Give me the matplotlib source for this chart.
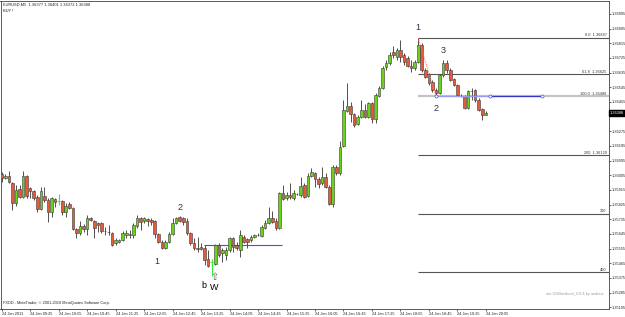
import matplotlib
matplotlib.use("Agg")
import matplotlib.pyplot as plt

plt.rcParams['font.family'] = ['Liberation Sans', 'DejaVu Sans']

# ---- data (EURUSD M5, 24 Jan 2011, 08:45 .. 20:05) ----
opens = [1.36013, 1.35988, 1.36000, 1.35957, 1.35835, 1.35920, 1.35871, 1.36000, 1.35927, 1.35908,
         1.35871, 1.35798, 1.35878, 1.35853, 1.35779, 1.35859, 1.35847, 1.35847, 1.35779, 1.35828,
         1.35804, 1.35675, 1.35651, 1.35693, 1.35675, 1.35743, 1.35724, 1.35712, 1.35712, 1.35663,
         1.35657, 1.35651, 1.35589, 1.35595, 1.35608, 1.35638, 1.35644, 1.35638, 1.35693, 1.35743,
         1.35724, 1.35736, 1.35730, 1.35724, 1.35644, 1.35595, 1.35559, 1.35595, 1.35644, 1.35712,
         1.35749, 1.35743, 1.35724, 1.35651, 1.35589, 1.35559, 1.35565, 1.35559, 1.35491, 1.35473,
         1.35460, 1.35577, 1.35528, 1.35516, 1.35546, 1.35620, 1.35577, 1.35546, 1.35626, 1.35614,
         1.35608, 1.35626, 1.35638, 1.35632, 1.35681, 1.35712, 1.35743, 1.35724, 1.35681, 1.35896,
         1.35865, 1.35884, 1.35865, 1.35890, 1.35884, 1.35945, 1.35878, 1.36000, 1.36019, 1.35982,
         1.35957, 1.35994, 1.35933, 1.35828, 1.36055, 1.36019, 1.36184, 1.36399, 1.36430, 1.36381,
         1.36319, 1.36362, 1.36405, 1.36362, 1.36448, 1.36350, 1.36491, 1.36540, 1.36669, 1.36693,
         1.36761, 1.36730, 1.36773, 1.36743, 1.36724, 1.36675, 1.36663, 1.36700, 1.36804, 1.36651,
         1.36620, 1.36577, 1.36528, 1.36509, 1.36620, 1.36693, 1.36651, 1.36595, 1.36559, 1.36491,
         1.36491, 1.36417, 1.36522, 1.36528, 1.36466, 1.36411, 1.36377]
highs = [1.36025, 1.36013, 1.36031, 1.35963, 1.35945, 1.35945, 1.36031, 1.36006, 1.35933, 1.35914,
         1.35884, 1.35933, 1.35933, 1.35865, 1.35871, 1.35865, 1.35890, 1.35853, 1.35835, 1.35841,
         1.35810, 1.35681, 1.35724, 1.35706, 1.35761, 1.35749, 1.35730, 1.35718, 1.35718, 1.35687,
         1.35700, 1.35657, 1.35620, 1.35614, 1.35663, 1.35669, 1.35669, 1.35712, 1.35761, 1.35749,
         1.35749, 1.35743, 1.35743, 1.35730, 1.35651, 1.35608, 1.35608, 1.35657, 1.35743, 1.35749,
         1.35755, 1.35749, 1.35743, 1.35657, 1.35620, 1.35626, 1.35589, 1.35577, 1.35546, 1.35491,
         1.35583, 1.35589, 1.35559, 1.35565, 1.35626, 1.35626, 1.35595, 1.35669, 1.35638, 1.35620,
         1.35638, 1.35644, 1.35651, 1.35700, 1.35730, 1.35810, 1.35786, 1.35743, 1.35902, 1.35945,
         1.35902, 1.35957, 1.35914, 1.35896, 1.35994, 1.35957, 1.36019, 1.36049, 1.36025, 1.35994,
         1.36055, 1.36019, 1.35945, 1.36068, 1.36068, 1.36215, 1.36466, 1.36571, 1.36454, 1.36387,
         1.36374, 1.36466, 1.36442, 1.36454, 1.36454, 1.36509, 1.36552, 1.36675, 1.36712, 1.36761,
         1.36798, 1.36786, 1.36835, 1.36755, 1.36736, 1.36712, 1.36712, 1.36847, 1.36816, 1.36663,
         1.36632, 1.36589, 1.36540, 1.36626, 1.36712, 1.36712, 1.36663, 1.36602, 1.36565, 1.36503,
         1.36497, 1.36528, 1.36540, 1.36534, 1.36479, 1.36417, 1.36401]
lows = [1.35963, 1.35982, 1.35957, 1.35792, 1.35816, 1.35865, 1.35865, 1.35865, 1.35865, 1.35853,
        1.35779, 1.35792, 1.35841, 1.35718, 1.35749, 1.35810, 1.35822, 1.35761, 1.35749, 1.35798,
        1.35669, 1.35620, 1.35638, 1.35657, 1.35638, 1.35724, 1.35620, 1.35657, 1.35651, 1.35638,
        1.35638, 1.35571, 1.35577, 1.35589, 1.35601, 1.35620, 1.35620, 1.35620, 1.35681, 1.35669,
        1.35712, 1.35693, 1.35700, 1.35620, 1.35589, 1.35555, 1.35552, 1.35589, 1.35638, 1.35706,
        1.35718, 1.35700, 1.35638, 1.35577, 1.35546, 1.35534, 1.35546, 1.35454, 1.35442, 1.35387,
        1.35454, 1.35503, 1.35473, 1.35485, 1.35534, 1.35534, 1.35546, 1.35503, 1.35589, 1.35559,
        1.35595, 1.35620, 1.35632, 1.35626, 1.35678, 1.35706, 1.35712, 1.35669, 1.35675, 1.35853,
        1.35853, 1.35859, 1.35853, 1.35884, 1.35871, 1.35865, 1.35871, 1.35994, 1.35933, 1.35927,
        1.35945, 1.35927, 1.35822, 1.35810, 1.36006, 1.36006, 1.36178, 1.36393, 1.36331, 1.36301,
        1.36313, 1.36356, 1.36356, 1.36356, 1.36325, 1.36325, 1.36485, 1.36534, 1.36651, 1.36681,
        1.36724, 1.36712, 1.36700, 1.36681, 1.36669, 1.36638, 1.36651, 1.36693, 1.36638, 1.36602,
        1.36559, 1.36516, 1.36488, 1.36503, 1.36608, 1.36632, 1.36583, 1.36552, 1.36491, 1.36485,
        1.36411, 1.36411, 1.36466, 1.36454, 1.36399, 1.36344, 1.36372]
closes = [1.35988, 1.36000, 1.35963, 1.35835, 1.35914, 1.35871, 1.36000, 1.35878, 1.35908, 1.35865,
          1.35798, 1.35908, 1.35853, 1.35779, 1.35865, 1.35841, 1.35847, 1.35779, 1.35816, 1.35804,
          1.35675, 1.35651, 1.35693, 1.35675, 1.35743, 1.35730, 1.35681, 1.35700, 1.35663, 1.35660,
          1.35654, 1.35577, 1.35608, 1.35608, 1.35651, 1.35651, 1.35641, 1.35700, 1.35743, 1.35718,
          1.35743, 1.35724, 1.35718, 1.35644, 1.35595, 1.35559, 1.35595, 1.35644, 1.35712, 1.35743,
          1.35724, 1.35718, 1.35651, 1.35589, 1.35559, 1.35555, 1.35555, 1.35485, 1.35448, 1.35473,
          1.35577, 1.35516, 1.35546, 1.35546, 1.35620, 1.35565, 1.35559, 1.35638, 1.35595, 1.35595,
          1.35626, 1.35638, 1.35641, 1.35687, 1.35712, 1.35743, 1.35718, 1.35681, 1.35896, 1.35859,
          1.35884, 1.35871, 1.35896, 1.35887, 1.35939, 1.35871, 1.36000, 1.36025, 1.35982, 1.35951,
          1.35994, 1.35933, 1.35828, 1.36055, 1.36019, 1.36178, 1.36405, 1.36430, 1.36381, 1.36313,
          1.36362, 1.36405, 1.36362, 1.36448, 1.36350, 1.36497, 1.36540, 1.36663, 1.36693, 1.36743,
          1.36743, 1.36773, 1.36730, 1.36700, 1.36675, 1.36663, 1.36700, 1.36804, 1.36651, 1.36608,
          1.36571, 1.36528, 1.36509, 1.36620, 1.36693, 1.36651, 1.36589, 1.36559, 1.36497, 1.36488,
          1.36417, 1.36522, 1.36519, 1.36466, 1.36405, 1.36377, 1.36388]

time_labels = ["24 Jan 2011", "24 Jan 09:25", "24 Jan 10:05", "24 Jan 10:45", "24 Jan 11:25",
               "24 Jan 12:05", "24 Jan 12:45", "24 Jan 13:25", "24 Jan 14:05", "24 Jan 14:45",
               "24 Jan 15:25", "24 Jan 16:05", "24 Jan 16:45", "24 Jan 17:25", "24 Jan 18:05",
               "24 Jan 18:45", "24 Jan 19:25", "24 Jan 20:05"]
price_ticks = [1.35195, 1.35285, 1.35375, 1.35465, 1.35555, 1.35645, 1.35735, 1.35825, 1.35915,
               1.36005, 1.36095, 1.36185, 1.36275, 1.36455, 1.36545, 1.36635, 1.36725, 1.36815,
               1.36905, 1.36995]

fib_high = 1.36847   # point "1"
fib_low = 1.36488    # point "2"
fib_levels = [0.0, 61.8, 100.0, 200, 300, 400]
fib_labels = ["0.0  1.36847", "61.8  1.36625", "100.0  1.36488", "200  1.36129", "300", "400"]
breakout_level = 1.35577
current_price = 1.36388

# ---- figure ----
W, H = 625, 317
fig = plt.figure(figsize=(W / 100, H / 100), dpi=100)
fig.patch.set_facecolor('white')
left_px, right_px, top_px, bot_px = 0.5, 608.5, 0.5, 309
ax = fig.add_axes([left_px / W, (H - bot_px) / H, (right_px - left_px) / W, (bot_px - top_px) / H])

px_per_bar = 3.56
x0_px = 1.7
ppx = 0.00006135
p_top = 1.37080
ax.set_xlim((left_px - x0_px) / px_per_bar, (right_px - x0_px) / px_per_bar)
ax.set_ylim(p_top - bot_px * ppx, p_top - top_px * ppx)

n = len(opens)
xs = list(range(n))
up_col = '#6ad21a'
dn_col = '#e35b3b'
edge = '#3a3a3a'
wick = '#505050'
doji = '#33ee33'
bw = 0.72
for i in xs:
    o, h, l, c = opens[i], highs[i], lows[i], closes[i]
    if o == c:
        ax.vlines(i, l, h, color=doji, lw=0.8, zorder=3)
        ax.hlines(o, i - bw / 2, i + bw / 2, color=doji, lw=0.8, zorder=3)
        continue
    ax.vlines(i, l, h, color=wick, lw=0.7, zorder=2)
    bot = min(o, c)
    ht = abs(c - o)
    col = up_col if c > o else dn_col
    ax.bar(i, ht, bottom=bot, width=bw, color=col, edgecolor=edge, linewidth=0.4, zorder=3)

small = 2.8

# fibonacci lines
start_i = 117
for lev, lab in zip(fib_levels, fib_labels):
    p = fib_high - (fib_high - fib_low) * lev / 100.0
    if lev == 100.0:
        ax.hlines(p, start_i, ax.get_xlim()[1], color='#c4c4c4', lw=1.6, zorder=1)
    else:
        ax.hlines(p, start_i, ax.get_xlim()[1], color='#555555', lw=0.8, zorder=1)
    ax.text(0.997, p + 0.00003, lab, transform=ax.get_yaxis_transform(), ha='right', va='bottom',
            fontsize=small, color='#333333')

# trendline at point 2 level
ax.plot([122, 137.2], [fib_low, fib_low], color='#9a9af0', lw=0.9, zorder=4)
ax.plot([137.2, 151.8], [fib_low, fib_low], color='#3434c8', lw=0.9, zorder=4)
ax.plot([122, 137.2, 151.8], [fib_low] * 3, ls='none', marker='o', ms=2.2, mfc='white',
        mec='#5050d0', mew=0.5, zorder=5)
ax.plot([117, 122], [fib_high, fib_low], color='#ff7070', ls=(0, (1, 1)), lw=0.7, zorder=4)

# breakout line
ax.hlines(breakout_level, 56.8, 78.7, color='#4a4ae6', lw=0.8, zorder=1)

# wave labels
lab_col = '#303050'
ax.text(117, 1.36914, "1", fontsize=6.5, color=lab_col, ha='center', va='center')
ax.text(124, 1.36773, "3", fontsize=6.5, color=lab_col, ha='center', va='center')
ax.text(122, 1.36417, "2", fontsize=6.5, color=lab_col, ha='center', va='center')
ax.text(50.1, 1.35810, "2", fontsize=6.5, color=lab_col, ha='center', va='center')
ax.text(43.6, 1.35473, "1", fontsize=6.5, color=lab_col, ha='center', va='center')
ax.text(56.8, 1.35331, "b", fontsize=6.5, color='black', ha='center', va='center')
ax.text(59.6, 1.35319, "W", fontsize=6.5, color='black', ha='center', va='center')
ax.text(59.6, 1.35380, "\u21e7", fontsize=7, color='#606060', ha='center', va='center',
        family='DejaVu Sans')

# axes styling
for s in ax.spines.values():
    s.set_color('#404040')
    s.set_linewidth(0.6)
ax.yaxis.tick_right()
ax.set_yticks(price_ticks)
ax.set_yticklabels([f"{t:.5f}" for t in price_ticks])
ax.tick_params(axis='y', direction='out', length=1.5, width=0.5, labelsize=small, pad=0.8,
               colors='#222222')
ax.set_xticks([8 * k for k in range(len(time_labels))])
ax.set_xticklabels(time_labels)
ax.tick_params(axis='x', direction='out', length=1.5, width=0.5, labelsize=small, pad=0.8,
               colors='#222222')
for t in ax.get_xticklabels():
    t.set_ha('left')

# current price box
ax.annotate(f"{current_price:.5f}", xy=(1.0, current_price), xycoords=('axes fraction', 'data'),
            xytext=(1.2, 0), textcoords='offset points', ha='left', va='center', fontsize=small,
            color='white', bbox=dict(boxstyle='square,pad=0.2', fc='black', ec='black'))

# header and footer texts
fig.text(3 / W, 1 - 5 / H, "EURUSD,M5  1.36377 1.36401 1.36372 1.36388", fontsize=2.9,
         ha='left', va='center', color='#222222')
fig.text(3 / W, 1 - 11 / H, "BUY !", fontsize=2.9, ha='left', va='center', color='#222222')
fig.text(3 / W, 1 - 303 / H, "FXDD - MetaTrader, \u00a9 2001-2010 MetaQuotes Software Corp.",
         fontsize=2.8, ha='left', va='center', color='#222222')
fig.text(604 / W, 1 - 294 / H, "am-GUBreakout_V.0.4 by andrew", fontsize=2.8,
         ha='right', va='center', color='#9a9aa8')

fig.savefig("out.png", dpi=100, facecolor='white')
